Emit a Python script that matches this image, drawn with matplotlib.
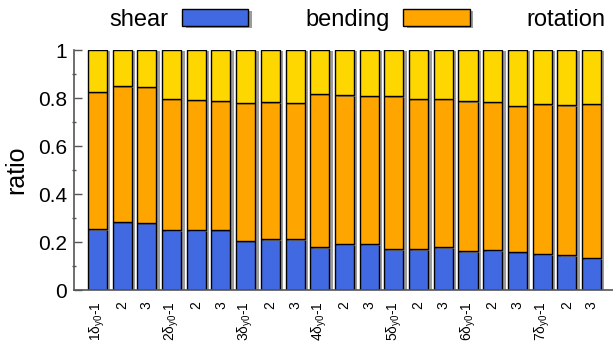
import numpy as np
import matplotlib
matplotlib.use('Agg')
import matplotlib.pyplot as plt
import matplotlib.patheffects as pe
from matplotlib.ticker import MultipleLocator

plt.rcParams['font.family'] = ['Liberation Sans', 'DejaVu Sans']
plt.rcParams['mathtext.fontset'] = 'custom'
plt.rcParams['mathtext.rm'] = 'Liberation Sans'

# top of the shear part and top of the bending part
shear = [0.253, 0.283, 0.279, 0.249, 0.249, 0.250, 0.204, 0.212, 0.211,
         0.178, 0.190, 0.190, 0.169, 0.169, 0.178, 0.161, 0.165, 0.158,
         0.149, 0.144, 0.132]
bend_top = [0.826, 0.849, 0.846, 0.796, 0.792, 0.788, 0.781, 0.782, 0.779,
            0.818, 0.811, 0.808, 0.807, 0.797, 0.797, 0.786, 0.783, 0.768,
            0.774, 0.769, 0.775]
groups = [1, 2, 3, 4, 5, 6, 7]
cases = ['1', '2', '3']

shear = np.array(shear)
bending = np.array(bend_top) - shear
rotation = 1 - np.array(bend_top)

labels = []
for g in groups:
    for c in cases:
        if c == '1':
            labels.append('%dδ$_{\\mathregular{y0}}$-1' % g)
        else:
            labels.append(c)

x = np.arange(len(shear))
w = 0.77
shadow = [pe.SimplePatchShadow(offset=(2.5, -1), shadow_rgbFace='0.45', alpha=0.7), pe.Normal()]

fig = plt.figure(figsize=(6.13, 3.51), dpi=100)
ax = fig.add_axes([74 / 613, 61 / 351, 539 / 613, 240 / 351])

b1 = ax.bar(x, shear, w, color='#4169E1', edgecolor='black', linewidth=1, label='shear')
b2 = ax.bar(x, bending, w, bottom=shear, color='#FFA500', edgecolor='black', linewidth=1, label='bending')
b3 = ax.bar(x, rotation, w, bottom=shear + bending, color='#FFD700', edgecolor='black', linewidth=1, label='rotation')
for bars in (b1, b2, b3):
    for p in bars:
        p.set_path_effects(shadow)

ax.set_xlim(-0.95, 20.87)
ax.set_ylim(0, 1)
ax.set_yticks([0, 0.2, 0.4, 0.6, 0.8, 1])
ax.set_yticklabels(['0', '0.2', '0.4', '0.6', '0.8', '1'], fontsize=15)
ax.yaxis.set_minor_locator(MultipleLocator(0.1))
ax.tick_params(axis='y', which='major', direction='in', length=6, width=1, color='#555555', pad=5)
ax.tick_params(axis='y', which='minor', direction='inout', length=3, width=1, color='#555555')
ax.set_xticks(x)
ax.set_xticklabels(labels, rotation=90, fontsize=10)
ax.tick_params(axis='x', length=0, pad=8)

for s in ['top', 'right']:
    ax.spines[s].set_visible(False)
for s in ['left', 'bottom']:
    ax.spines[s].set_color('#555555')
    ax.spines[s].set_linewidth(1.2)

ax.set_ylabel('ratio', fontsize=18)
ax.yaxis.set_label_coords(-0.085, 0.5)

fig.legend(handles=[b1, b2, b3], loc='center left', bbox_to_anchor=(109 / 613, 1 - 20 / 351),
           ncol=3, markerfirst=False, frameon=False, fontsize=17, borderpad=0, borderaxespad=0,
           handlelength=2.8, handleheight=0.75, handletextpad=0.6, columnspacing=2.4)

fig.savefig('out.png', dpi=100)
